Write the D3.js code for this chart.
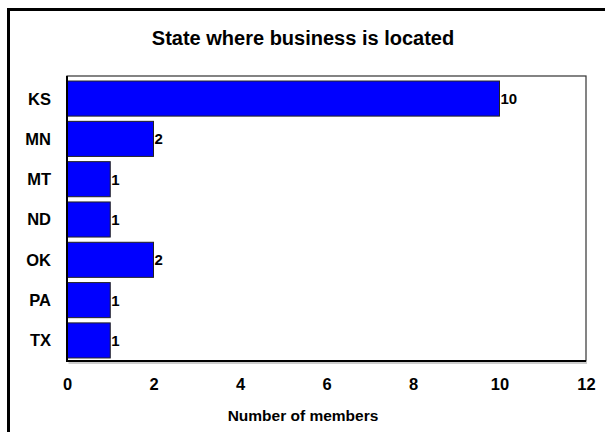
<!DOCTYPE html>
<html><head><meta charset="utf-8">
<script src="https://cdn.jsdelivr.net/npm/d3@7"></script>
<style>body{margin:0;background:#fff}svg{display:block}text{font-family:Arial,"Liberation Sans",sans-serif;font-weight:bold;fill:#000}</style>
</head><body><svg id="c" width="605" height="432"></svg>
<script>
const categories = ["KS","MN","MT","ND","OK","PA","TX"];
const values = [10,2,1,1,2,1,1];
const xTicks = [0,2,4,6,8,10,12];
const title = "State where business is located";
const xTitle = "Number of members";

const svg = d3.select("#c");
const L = 67, R = 586, T = 76, B = 361;
const x = d3.scaleLinear().domain([0,12]).range([L,R]);
const y = d3.scaleBand().domain(categories).range([T,B]).paddingInner(0.13).paddingOuter(0.1);

// outer border
svg.append("rect").attr("x",8.5).attr("y",9.5).attr("width",640).attr("height",460)
  .attr("fill","none").attr("stroke","#000").attr("stroke-width",3);

// plot frame
svg.append("rect").attr("x",L).attr("y",T).attr("width",R-L).attr("height",B-T)
  .attr("fill","#fff").attr("stroke","#333").attr("stroke-width",1.2);

// title
svg.append("text").attr("x",303).attr("y",45).attr("text-anchor","middle")
  .attr("font-size",20).text(title);

// bars
const g = svg.append("g");
g.selectAll("rect.bar").data(values).join("rect").attr("class","bar")
  .attr("x",x(0)).attr("y",(d,i)=>y(categories[i])+1)
  .attr("width",d=>x(d)-x(0)).attr("height",y.bandwidth())
  .attr("fill","#0000ff").attr("stroke","#222").attr("stroke-width",1);

// value labels
g.selectAll("text.val").data(values).join("text").attr("class","val")
  .attr("x",d=>x(d)+1).attr("y",(d,i)=>y(categories[i])+1+y.bandwidth()/2)
  .attr("dy","0.36em").style("font-size","15px").text(d=>d);

// category labels
svg.selectAll("text.cat").data(categories).join("text").attr("class","cat")
  .attr("x",51).attr("y",d=>y(d)+1+y.bandwidth()/2).attr("dy","0.36em")
  .attr("text-anchor","end").style("font-size","16.5px").text(d=>d);

// axes lines (left & bottom, with shadow)
svg.append("line").attr("x1",L+1.5).attr("x2",R+1).attr("y1",B+2).attr("y2",B+2).attr("stroke","#999").attr("stroke-width",1);
svg.append("line").attr("x1",L).attr("x2",L).attr("y1",T).attr("y2",B+1).attr("stroke","#000").attr("stroke-width",2);
svg.append("line").attr("x1",L-1).attr("x2",R).attr("y1",B).attr("y2",B).attr("stroke","#000").attr("stroke-width",2);

// x tick labels
const xa = svg.append("g").attr("transform",`translate(0,${B})`)
  .call(d3.axisBottom(x).tickValues(xTicks).tickSize(0).tickPadding(17).tickFormat(d3.format("d")));
xa.select(".domain").remove();
xa.attr("font-size",null).attr("font-family",null);
xa.selectAll("text").style("font-size","16.5px").style("font-family","Arial,'Liberation Sans',sans-serif").style("font-weight","bold").attr("fill","#000");

// x axis title
svg.append("text").attr("x",303).attr("y",420.5).attr("text-anchor","middle").style("font-size","15.5px").text(xTitle);
</script></body></html>
